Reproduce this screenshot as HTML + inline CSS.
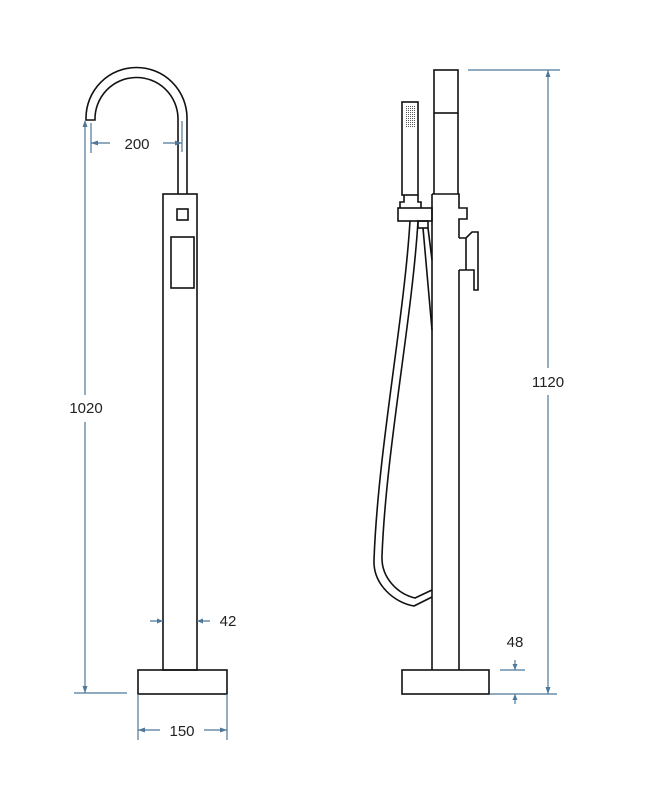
<!DOCTYPE html>
<html><head><style>body{margin:0;background:#fff}svg{display:block}</style></head><body>
<svg width="647" height="800" viewBox="0 0 647 800" xmlns="http://www.w3.org/2000/svg">
<defs>
<pattern id="g" width="2" height="2" patternUnits="userSpaceOnUse"><rect width="1" height="1" fill="#555"/></pattern>
</defs>
<g fill="none" stroke="#111" stroke-width="1.6">
<!-- left faucet -->
<path d="M187,194 V118 A50.5,50.5 0 0 0 86,118 V120 H95 A41.5,41.5 0 0 1 178,118 V194"/>
<rect x="163" y="194" width="34" height="476"/>
<rect x="177" y="209" width="11" height="11"/>
<rect x="171" y="237" width="23" height="51"/>
<rect x="138" y="670" width="89" height="24"/>
<!-- right faucet -->
<rect x="434" y="70" width="24" height="43"/>
<path d="M434,113 V194 M458,113 V194"/>
<path d="M432,194 H459 V208 H467 V219 H459 V238 M459,270 V670 M432,194 V670"/>
<path d="M459,238 H466 L472,232 H478 V290 H474 V270 H459 M466,238 L466,270"/>
<rect x="402" y="102" width="16" height="93"/>
<path d="M404,195 V202 H400 V208 M418,195 V202 H421 V208"/>
<rect x="398" y="208" width="34" height="13"/>
<rect x="418" y="221" width="10" height="7"/>
<rect x="402" y="670" width="87" height="24"/>
<!-- hose -->
<path d="M410,221 C404,320 378,450 374,560 C373,585 395,603 414,606 L432,597"/>
<path d="M418,221 C412,320 386,450 382,556 C381,578 398,594 415,598 L432,590"/>
<path d="M423,228 L432,330 M428,228 L432,260"/>
</g>
<rect x="405" y="105" width="10" height="23" fill="url(#g)"/>
<g stroke="#4e7799" stroke-width="1.2" fill="#4e7799">
<!-- 1020 -->
<path d="M85,122 V395 M85,422 V693 M74,693 H127"/>
<path d="M85,120 l-2.5,7 h5z M85,693 l-2.5,-7 h5z" stroke="none"/>
<!-- 200 -->
<path d="M91,123 V153 M182,121 V152 M91,143 H110 M163,143 H182" />
<path d="M91,143 l7,-2.5 v5z M182,143 l-7,-2.5 v5z" stroke="none"/>
<!-- 42 -->
<path d="M150,621 H163 M197,621 H210"/>
<path d="M163,621 l-6,-2.5 v5z M197,621 l6,-2.5 v5z" stroke="none"/>
<!-- 150 -->
<path d="M138,694 V740 M227,694 V740 M138,730 H160 M204,730 H227"/>
<path d="M138,730 l7,-2.5 v5z M227,730 l-7,-2.5 v5z" stroke="none"/>
<!-- 1120 -->
<path d="M468,70 H560 M548,70 V368 M548,395 V694 M490,694 H557"/>
<path d="M548,70 l-2.5,7 h5z M548,694 l-2.5,-7 h5z" stroke="none"/>
<!-- 48 -->
<path d="M500,670 H525 M515,660 V670 M515,694 V704"/>
<path d="M515,670 l-2.5,-6 h5z M515,694 l-2.5,6 h5z" stroke="none"/>
</g>
<g font-family="Liberation Sans, sans-serif" font-size="15" fill="#222" text-anchor="middle">
<text x="137" y="149">200</text>
<text x="86" y="413">1020</text>
<text x="228" y="626">42</text>
<text x="182" y="736">150</text>
<text x="548" y="387">1120</text>
<text x="515" y="647">48</text>
</g>
</svg>
</body></html>
